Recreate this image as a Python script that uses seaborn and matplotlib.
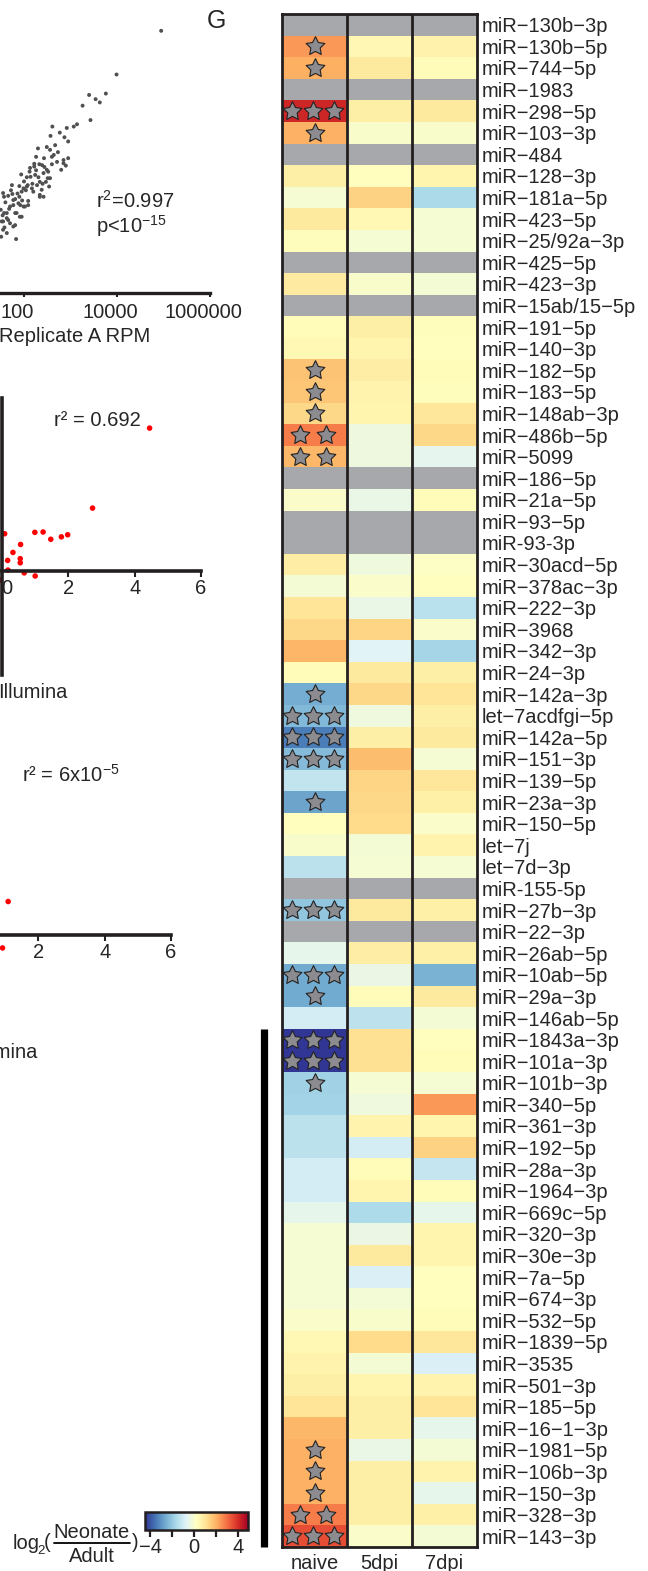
import numpy as np
import pandas as pd
import matplotlib
matplotlib.use("Agg")
import matplotlib.pyplot as plt
from matplotlib.ticker import NullLocator
from matplotlib.transforms import ScaledTranslation
from matplotlib.lines import Line2D
import seaborn as sns

sns.set_style("white")
plt.rcParams['font.family'] = ['Liberation Sans', 'DejaVu Sans']
plt.rcParams['mathtext.fontset'] = 'custom'
plt.rcParams['mathtext.rm'] = 'Liberation Sans'
plt.rcParams['mathtext.it'] = 'Liberation Sans:italic'
plt.rcParams['axes.unicode_minus'] = True

nan = np.nan

# ---------------- data ----------------
rows = ["miR−130b−3p", "miR−130b−5p", "miR−744−5p", "miR−1983", "miR−298−5p",
        "miR−103−3p", "miR−484", "miR−128−3p", "miR−181a−5p", "miR−423−5p",
        "miR−25/92a−3p", "miR−425−5p", "miR−423−3p", "miR−15ab/15−5p", "miR−191−5p",
        "miR−140−3p", "miR−182−5p", "miR−183−5p", "miR−148ab−3p", "miR−486b−5p",
        "miR−5099", "miR−186−5p", "miR−21a−5p", "miR−93−5p", "miR-93-3p",
        "miR−30acd−5p", "miR−378ac−3p", "miR−222−3p", "miR−3968", "miR−342−3p",
        "miR−24−3p", "miR−142a−3p", "let−7acdfgi−5p", "miR−142a−5p", "miR−151−3p",
        "miR−139−5p", "miR−23a−3p", "miR−150−5p", "let−7j", "let−7d−3p",
        "miR-155-5p", "miR−27b−3p", "miR−22−3p", "miR−26ab−5p", "miR−10ab−5p",
        "miR−29a−3p", "miR−146ab−5p", "miR−1843a−3p", "miR−101a−3p", "miR−101b−3p",
        "miR−340−5p", "miR−361−3p", "miR−192−5p", "miR−28a−3p", "miR−1964−3p",
        "miR−669c−5p", "miR−320−3p", "miR−30e−3p", "miR−7a−5p", "miR−674−3p",
        "miR−532−5p", "miR−1839−5p", "miR−3535", "miR−501−3p", "miR−185−5p",
        "miR−16−1−3p", "miR−1981−5p", "miR−106b−3p", "miR−150−3p", "miR−328−3p",
        "miR−143−3p"]

naive = [nan, 2.4, 2.05, nan, 4.15, 2.0, nan, 0.7, -0.1, 0.85,
         0.25, nan, 0.8, nan, 0.3, 0.4, 1.7, 1.65, 1.3, 2.8,
         1.9, nan, 0.05, nan, nan, 0.75, -0.15, 1.0, 1.3, 1.95,
         0.3, -2.6, -2.35, -3.4, -2.3, -1.3, -2.75, 0.2, 0.0, -1.4,
         nan, -2.1, nan, -0.5, -2.65, -2.65, -0.95, -4.5, -4.5, -1.85,
         -1.8, -1.4, -1.4, -0.95, -0.95, -0.5, -0.1, -0.1, -0.1, -0.1,
         0.05, 0.4, 0.55, 0.7, 1.0, 1.9, 2.0, 2.0, 2.0, 2.8, 3.5]

dpi5 = [nan, 0.45, 0.85, nan, 0.7, 0.0, nan, 0.2, 1.4, 0.4,
        -0.1, nan, 0.0, nan, 0.7, 0.5, 0.75, 0.55, 0.5, -0.35,
        -0.35, nan, -0.45, nan, nan, -0.3, 0.05, -0.45, 1.35, -0.7,
        0.85, 1.3, -0.3, 0.7, 1.8, 1.35, 1.3, 1.2, -0.15, -0.1,
        nan, 0.85, nan, 0.75, -0.4, 0.3, -1.35, 1.1, 1.1, -0.1,
        -0.3, 0.55, -0.95, 0.3, 0.5, -1.6, -0.4, 0.85, -0.85, -0.2,
        0.0, 1.2, -0.15, 0.5, 0.7, 0.7, -0.45, 0.7, 0.7, 0.7, 0.05]

dpi7 = [nan, 0.6, 0.3, nan, 0.85, 0.0, nan, 0.5, -1.65, -0.1,
        -0.1, nan, -0.15, nan, 0.25, 0.2, 0.3, 0.25, 0.9, 1.3,
        -0.55, nan, 0.3, nan, nan, 0.1, 0.2, -1.45, 0.05, -1.75,
        0.7, 1.0, 0.7, 0.85, -0.1, 0.9, 0.65, 0.05, 0.55, -0.1,
        nan, 0.65, nan, 0.65, -2.5, 0.85, -0.15, 0.2, 0.3, -0.1,
        2.4, 0.5, 1.4, -1.2, 0.3, -0.5, 0.5, 0.5, 0.2, 0.2,
        0.3, 0.9, -0.85, 0.55, 1.0, -0.5, -0.15, 0.55, -0.5, 0.65, -0.15]

stars = [0, 1, 1, 0, 3, 1, 0, 0, 0, 0,
         0, 0, 0, 0, 0, 0, 1, 1, 1, 2,
         2, 0, 0, 0, 0, 0, 0, 0, 0, 0,
         0, 1, 3, 3, 3, 0, 1, 0, 0, 0,
         0, 3, 0, 0, 3, 1, 0, 3, 3, 1,
         0, 0, 0, 0, 0, 0, 0, 0, 0, 0,
         0, 0, 0, 0, 0, 0, 1, 1, 1, 2, 3]

columns = ["naive", "5dpi", "7dpi"]
bracket_start = "miR−1843a−3p"

# replicate scatter (log10 RPM)
rep_a_log = [4.95, 3.99, 3.76, 3.40, 3.54, 3.63, 3.26, 3.43, 3.14, 3.07,
             2.61, 2.92, 2.77, 2.87, 2.95, 2.57, 2.49, 2.56, 2.30, 2.26,
             2.60, 2.85, 2.90, 2.80, 2.39, 2.22, 2.42, 2.51, 2.31, 2.14,
             1.94, 2.08, 1.74, 1.99, 2.38, 2.54, 2.20, 1.90, 2.34, 2.09,
             1.77, 1.57, 2.02, 1.84, 1.63, 1.95, 1.55, 1.77, 1.83, 2.22,
             2.33, 2.60, 2.85, 2.49, 2.24, 2.06, 2.56, 2.34, 2.40, 1.90,
             2.06, 2.17, 1.55, 1.66, 1.95, 2.34, 2.42, 1.81, 1.88, 1.77,
             1.70, 1.99, 2.09, 1.50, 1.57, 1.81, 1.91, 1.63, 1.52, 1.70,
             1.81, 1.55, 1.63, 1.51, 2.67, 2.73, 2.43, 2.71, 2.13, 2.95,
             2.28, 2.47, 1.60, 1.68, 1.86, 2.00, 2.12, 2.26, 1.54, 1.72,
             2.44, 2.64, 2.18, 1.96, 1.58, 1.66, 1.75, 1.92, 2.04, 2.52]
rep_b_log = [4.95, 4.01, 3.60, 3.57, 3.48, 3.41, 3.34, 3.03, 2.94, 2.89,
             2.89, 2.86, 2.76, 2.66, 2.57, 2.69, 2.45, 2.39, 2.42, 2.24,
             2.24, 2.17, 2.05, 1.96, 2.06, 2.03, 1.89, 1.78, 1.80, 1.81,
             1.86, 1.63, 1.63, 1.56, 1.53, 1.60, 1.49, 1.38, 1.38, 1.29,
             1.31, 1.38, 1.17, 1.03, 1.03, 0.95, 0.85, 0.74, 0.47, 2.09,
             2.08, 2.08, 2.10, 1.96, 1.85, 1.80, 1.78, 1.70, 1.66, 1.61,
             1.60, 1.56, 1.46, 1.40, 1.49, 1.42, 1.38, 1.33, 1.24, 1.20,
             1.17, 1.17, 1.20, 1.10, 1.03, 1.03, 0.95, 0.92, 0.85, 0.81,
             0.77, 0.67, 0.60, 0.52, 2.49, 2.34, 2.21, 2.13, 2.00, 2.21,
             1.63, 1.70, 1.26, 1.12, 1.45, 1.71, 1.92, 1.95, 0.98, 1.52,
             2.02, 2.28, 1.66, 1.30, 0.72, 0.88, 1.44, 1.20, 1.52, 1.92]

# correlation scatters (log2 FC)
mid_x = [4.45, 2.73, 0.08, 0.99, 1.24, 1.47, 1.79, 1.98, 0.56, 0.33,
         0.55, 0.55, 0.17, 0.18, 0.67, 1.00, -0.05]
mid_y = [4.13, 1.82, 1.08, 1.12, 1.13, 0.92, 0.99, 1.05, 0.77, 0.54,
         0.36, 0.24, 0.31, 0.03, -0.05, -0.14, -0.26]
low_x = [1.09, 0.92]
low_y = [0.97, -0.37]

# ---------------- figure ----------------
W, H = 648, 1571
fig = plt.figure(figsize=(W / 100, H / 100), dpi=100)
fig.patch.set_facecolor("white")
INK = "#231f20"
FS = 14.5


def add_ax(x0, y0, x1, y1):
    return fig.add_axes([x0 / W, 1 - y1 / H, (x1 - x0) / W, (y1 - y0) / H])


def fx(px):
    return px / W


def fy(py):
    return 1 - py / H


def shift_label(lbl, dx_px):
    lbl.set_transform(lbl.get_transform() + ScaledTranslation(dx_px / 100, 0, fig.dpi_scale_trans))


# --- top: replicate scatter
ax1 = add_ax(-162, -18, 210, 293)
ax1.set_facecolor("none")
sns.scatterplot(x=[10 ** v for v in rep_a_log], y=[10 ** v for v in rep_b_log],
                ax=ax1, color="#505052", s=8, edgecolor="none", legend=False)
ax1.set_xscale("log")
ax1.set_yscale("log")
ax1.set_xlim(1e-2, 1e6)
ax1.set_ylim(10 ** -0.69, 1e6)
for s in ["top", "right", "left"]:
    ax1.spines[s].set_visible(False)
ax1.spines["bottom"].set_linewidth(2.4)
ax1.spines["bottom"].set_color(INK)
ax1.set_xticks([1, 100, 1e4, 1e6])
ax1.set_xticklabels(["", "100", "10000", "1000000"])
ax1.xaxis.set_minor_locator(NullLocator())
ax1.yaxis.set_minor_locator(NullLocator())
ax1.set_yticks([])
ax1.tick_params(axis="x", length=3, width=1.5, color=INK, labelsize=FS, pad=4, bottom=True)
for lbl in ax1.get_xticklabels():
    shift_label(lbl, -7)
ax1.set_xlabel("")
ax1.set_ylabel("")
fig.text(fx(75), fy(337), "Replicate A RPM", fontsize=FS, ha="center", va="center")
fig.text(fx(96), fy(201), r"r$^2$=0.997", fontsize=FS, ha="left", va="center")
fig.text(fx(96), fy(226), r"p<10$^{\mathregular{-15}}$", fontsize=FS, ha="left", va="center")


def fc_axes(ax, xs, ys, labels):
    ax.set_facecolor("none")
    sns.scatterplot(x=xs, y=ys, ax=ax, color="#ff0000", s=16, edgecolor="none", legend=False)
    ax.set_xlim(-6, 6)
    ax.set_ylim(-3, 5)
    ax.spines["top"].set_visible(False)
    ax.spines["right"].set_visible(False)
    ax.spines["left"].set_position(("data", 0))
    ax.spines["bottom"].set_position(("data", 0))
    for s in ["left", "bottom"]:
        ax.spines[s].set_linewidth(2.6)
        ax.spines[s].set_color(INK)
    ax.set_xticks([0, 2, 4, 6])
    ax.set_xticklabels(labels)
    ax.set_yticks([])
    ax.tick_params(axis="x", length=4, width=1.5, color=INK, labelsize=FS, pad=2, bottom=True)
    ax.set_xlabel("")
    ax.set_ylabel("")


# --- middle
ax2 = add_ax(-197, 398, 201, 675)
fc_axes(ax2, mid_x, mid_y, ["0", "2", "4", "6"])
shift_label(ax2.get_xticklabels()[0], 5)
fig.text(fx(54), fy(420), "r² = 0.692", fontsize=FS, ha="left", va="center")
fig.text(fx(68), fy(692), "Illumina", fontsize=FS, ha="right", va="center")

# --- bottom
ax3 = add_ax(-227, 762, 171, 1039)
fc_axes(ax3, low_x, low_y, ["", "2", "4", "6"])
fig.text(fx(22), fy(775), r"r² = 6x10$^{\mathregular{-5}}$", fontsize=FS, ha="left", va="center")
fig.text(fx(38), fy(1053), "Illumina", fontsize=FS, ha="right", va="center")

# --- heatmap
df = pd.DataFrame({columns[0]: naive, columns[1]: dpi5, columns[2]: dpi7}, index=rows)
hm = add_ax(282.3, 14, 476.7, 1547)
cb_ax = add_ax(145, 1512, 248, 1530)
hm.set_facecolor("#a7a8ac")
sns.heatmap(df, ax=hm, cmap="RdYlBu_r", vmin=-4.5, vmax=4.9, cbar_ax=cb_ax,
            cbar_kws={"orientation": "horizontal"}, xticklabels=True, yticklabels=True)
hm.yaxis.tick_right()
hm.set_yticklabels(rows, rotation=0, fontsize=FS)
hm.set_xticklabels(columns, rotation=0, fontsize=FS)
hm.tick_params(axis="y", length=0, pad=3.5, left=False, right=False, labelleft=False, labelright=True)
hm.tick_params(axis="x", length=0, pad=5)
hm.set_xlabel("")
hm.set_ylabel("")
for s in hm.spines.values():
    s.set_visible(True)
    s.set_linewidth(2.0)
    s.set_color(INK)
for c in range(1, len(columns)):
    hm.axvline(c, color=INK, lw=2.0)

# significance stars
offsets = {1: [0.5], 2: [0.28, 0.67], 3: [0.15, 0.48, 0.8]}
sx, sy = [], []
for i, n in enumerate(stars):
    if n:
        for o in offsets[n]:
            sx.append(o)
            sy.append(i + 0.5)
hm.scatter(sx, sy, marker=(5, 1, 0), s=200, facecolor="#8c8c90", edgecolor="#222222",
           linewidth=0.8, zorder=5, clip_on=False)
hm.set_xlim(0, len(columns))
hm.set_ylim(len(rows), 0)

# bracket bar
b0 = rows.index(bracket_start)
hm.plot([-0.275, -0.275], [b0, len(rows)], color="black", lw=5.2,
        solid_capstyle="butt", clip_on=False)

# colorbar
cb = hm.collections[0].colorbar
cb.set_ticks([-4, -2, 0, 2, 4])
cb.set_ticklabels(["−4", "", "0", "", "4"])
cb.ax.tick_params(length=5, width=1.6, color=INK, labelsize=FS, pad=1)
cb.outline.set_linewidth(1.8)
cb.outline.set_edgecolor(INK)

# colorbar title: log2(Neonate / Adult)
fig.text(fx(13), fy(1549), "log", fontsize=FS, ha="left", va="baseline")
fig.text(fx(37), fy(1554), "2", fontsize=9.5, ha="left", va="baseline")
fig.text(fx(44), fy(1548), "(", fontsize=FS, ha="left", va="baseline")
fig.text(fx(91), fy(1538), "Neonate", fontsize=FS, ha="center", va="baseline")
fig.text(fx(92), fy(1562), "Adult", fontsize=FS, ha="center", va="baseline")
fig.text(fx(132), fy(1548), ")", fontsize=FS, ha="left", va="baseline")
fig.add_artist(Line2D([fx(54), fx(130)], [fy(1543), fy(1543)], color="black", lw=1.3,
                      transform=fig.transFigure))

fig.text(fx(216), fy(21), "G", fontsize=18, ha="center", va="center")

fig.savefig("out.png", dpi=100, facecolor="white")
